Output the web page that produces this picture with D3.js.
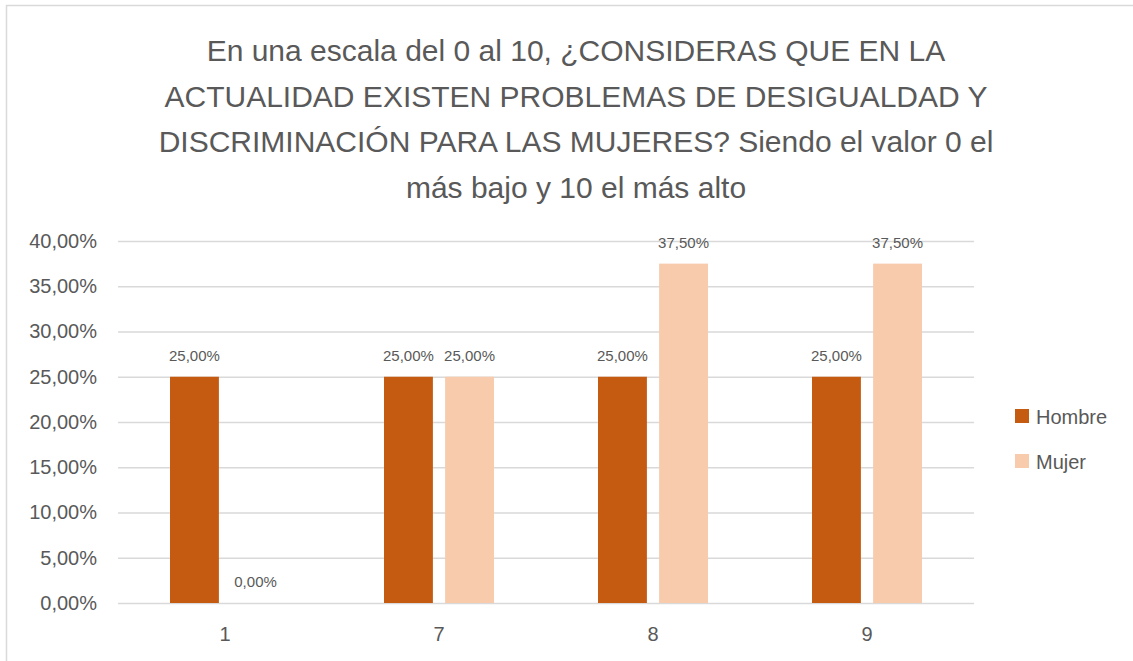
<!DOCTYPE html>
<html>
<head>
<meta charset="utf-8">
<script src="https://cdn.jsdelivr.net/npm/d3@7"></script>
<style>
  body { margin: 0; background: #fff; }
  text { font-family: "Liberation Sans", "DejaVu Sans", sans-serif; }
</style>
</head>
<body>
<script>
var categories = ["1", "7", "8", "9"];
var seriesNames = ["Hombre", "Mujer"];
var hombre = [0.25, 0.25, 0.25, 0.25];
var mujer = [0, 0.25, 0.375, 0.375];
var yTicks = [0, 0.05, 0.10, 0.15, 0.20, 0.25, 0.30, 0.35, 0.40];
var titleLines = [
  "En una escala del 0 al 10, ¿CONSIDERAS QUE EN LA",
  "ACTUALIDAD EXISTEN PROBLEMAS DE DESIGUALDAD Y",
  "DISCRIMINACIÓN PARA LAS MUJERES? Siendo el valor 0 el",
  "más bajo y 10 el más alto"
];

buildIt();

function buildIt () {
  var w = 1133;
  var h = 661;
  var left = 118, right = 974, top = 241, bottom = 603;
  var colors = ["#C55A11", "#F8CBAD"];
  var textColor = "#595959";

  var fmt = function (v) {
    return d3.format(".2f")(v * 100).replace(".", ",") + "%";
  };

  var svg = d3.select("body")
    .append("svg")
    .attr("width", w)
    .attr("height", h);

  // chart frame
  svg.append("rect")
    .attr("x", 6.5)
    .attr("y", 5.5)
    .attr("width", w + 10)
    .attr("height", h + 10)
    .attr("fill", "none")
    .attr("stroke", "#d9d9d9")
    .attr("stroke-width", 1.5);

  /* ===== TITLE =====*/
  svg.append("g")
    .selectAll("text")
    .data(titleLines)
    .enter()
    .append("text")
    .attr("x", 576)
    .attr("y", function (d, i) { return 61 + i * 45.5; })
    .attr("text-anchor", "middle")
    .attr("font-size", "30px")
    .attr("fill", textColor)
    .text(function (d) { return d; });

  /* ===== SCALES =====*/
  var xScale = d3.scaleBand()
    .domain(categories)
    .range([left, right]);

  var xInner = d3.scaleBand()
    .domain(seriesNames)
    .range([xScale.bandwidth() / 2 - 55, xScale.bandwidth() / 2 + 55])
    .paddingInner(0.2);

  var yScale = d3.scaleLinear()
    .domain([0, 0.4])
    .range([bottom, top]);

  /* ===== GRID + AXES =====*/
  var yAxis = d3.axisLeft(yScale)
    .tickValues(yTicks)
    .tickSize(-(right - left))
    .tickPadding(21)
    .tickFormat(fmt);

  var yG = svg.append("g")
    .attr("transform", "translate(" + left + ",0)")
    .call(yAxis);
  yG.select(".domain").remove();
  yG.selectAll("line").attr("stroke", "#d9d9d9").attr("stroke-width", 1.5);
  yG.selectAll("text")
    .attr("font-size", "20px")
    .attr("fill", textColor)
    .attr("font-family", "Liberation Sans, sans-serif");

  var xAxis = d3.axisBottom(xScale).tickSize(0).tickPadding(24);
  var xG = svg.append("g")
    .attr("transform", "translate(0," + bottom + ")")
    .call(xAxis);
  xG.select(".domain").remove();
  xG.selectAll("text")
    .attr("font-size", "20px")
    .attr("fill", textColor)
    .attr("font-family", "Liberation Sans, sans-serif");

  /* ===== BARS =====*/
  var rows = categories.map(function (c, i) {
    return { cat: c, values: [hombre[i], mujer[i]] };
  });

  var group = svg.append("g")
    .selectAll("g")
    .data(rows)
    .enter()
    .append("g")
    .attr("transform", function (d) { return "translate(" + xScale(d.cat) + ",0)"; });

  var cells = group.selectAll("g")
    .data(function (d) {
      return d.values.map(function (v, j) { return { name: seriesNames[j], v: v, j: j }; });
    })
    .enter()
    .append("g");

  cells.append("rect")
    .attr("x", function (d) { return xInner(d.name); })
    .attr("y", function (d) { return yScale(d.v); })
    .attr("width", xInner.bandwidth())
    .attr("height", function (d) { return bottom - yScale(d.v); })
    .attr("fill", function (d) { return colors[d.j]; });

  /* ===== VALUE LABELS =====*/
  cells.append("text")
    .attr("x", function (d) { return xInner(d.name) + xInner.bandwidth() / 2; })
    .attr("y", function (d) { return yScale(d.v) - 16; })
    .attr("text-anchor", "middle")
    .attr("font-size", "15px")
    .attr("fill", textColor)
    .text(function (d) { return fmt(d.v); });

  /* ===== LEGEND =====*/
  var legend = svg.append("g")
    .selectAll("g")
    .data(seriesNames)
    .enter()
    .append("g")
    .attr("transform", function (d, i) { return "translate(1015," + (409 + i * 45) + ")"; });

  legend.append("rect")
    .attr("width", 14)
    .attr("height", 14)
    .attr("fill", function (d, i) { return colors[i]; });

  legend.append("text")
    .attr("x", 21)
    .attr("y", 15)
    .attr("font-size", "20px")
    .attr("fill", textColor)
    .text(function (d) { return d; });
}
</script>
</body>
</html>
